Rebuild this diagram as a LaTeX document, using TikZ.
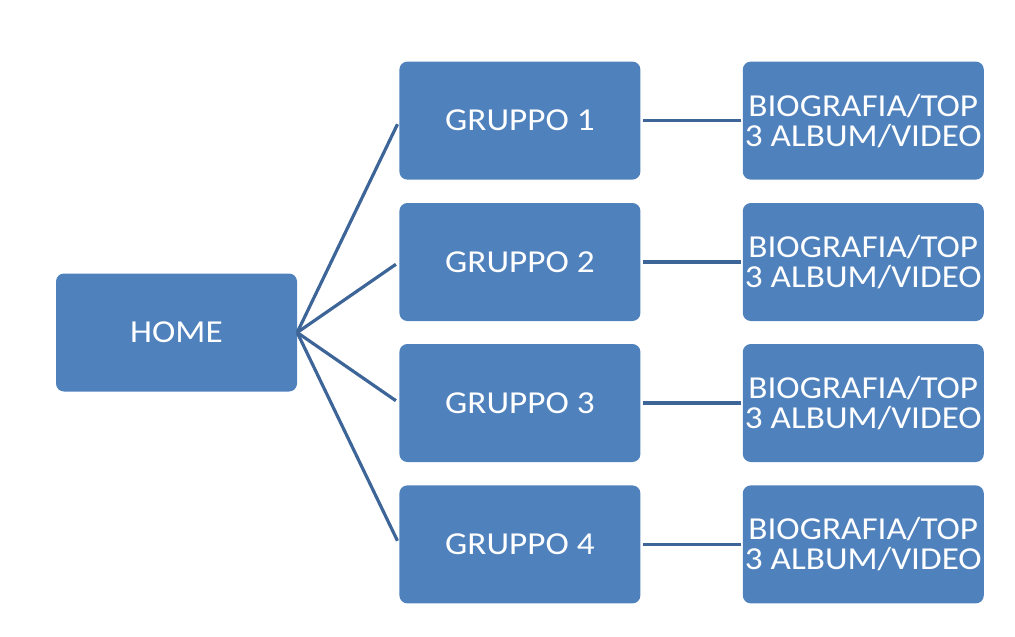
\documentclass[tikz,border=0pt]{standalone}
\usepackage{fontspec}
\setmainfont{Carlito}[FakeStretch=1.1]
\usetikzlibrary{positioning}
\usepackage{xcolor}
\definecolor{cajaazul}{HTML}{4F81BD}
\definecolor{lineaazul}{HTML}{3D6598}

\begin{document}
\begin{tikzpicture}[node distance=102pt,
    bloque/.style={fill=cajaazul, rounded corners=8pt, minimum width=241pt, minimum height=118pt,
        inner sep=0pt, text=white, align=center, font=\fontsize{32}{30}\selectfont},
    linea/.style={draw=lineaazul, line width=3.2pt}]
    \useasboundingbox (0,0) rectangle (1015pt,-637pt);

    % Definición de bloques
    \node [bloque] (home) at (176.5pt,-332.5pt) {HOME};
    \node [bloque, right=of home, yshift=70.5pt] (gruppo2) {GRUPPO 2};
    \node [bloque, right=of home, yshift=-70.5pt] (gruppo3) {GRUPPO 3};
    \node [bloque, above=23pt of gruppo2] (gruppo1) {GRUPPO 1};
    \node [bloque, below=23pt of gruppo3] (gruppo4) {GRUPPO 4};
    \node [bloque, right=of gruppo1] (bio1) {BIOGRAFIA/TOP\\3 ALBUM/VIDEO};
    \node [bloque, right=of gruppo2] (bio2) {BIOGRAFIA/TOP\\3 ALBUM/VIDEO};
    \node [bloque, right=of gruppo3] (bio3) {BIOGRAFIA/TOP\\3 ALBUM/VIDEO};
    \node [bloque, right=of gruppo4] (bio4) {BIOGRAFIA/TOP\\3 ALBUM/VIDEO};

    % Líneas
    \draw [linea, shorten >=4pt] (home.east) -- (gruppo1.west);
    \draw [linea, shorten >=4pt] (home.east) -- (gruppo2.west);
    \draw [linea, shorten >=4pt] (home.east) -- (gruppo3.west);
    \draw [linea, shorten >=4pt] (home.east) -- (gruppo4.west);
    \draw [linea, shorten <=2pt, shorten >=2pt] (gruppo1) -- (bio1);
    \draw [linea, shorten <=2pt, shorten >=2pt] (gruppo2) -- (bio2);
    \draw [linea, shorten <=2pt, shorten >=2pt] (gruppo3) -- (bio3);
    \draw [linea, shorten <=2pt, shorten >=2pt] (gruppo4) -- (bio4);

\end{tikzpicture}
\end{document}
